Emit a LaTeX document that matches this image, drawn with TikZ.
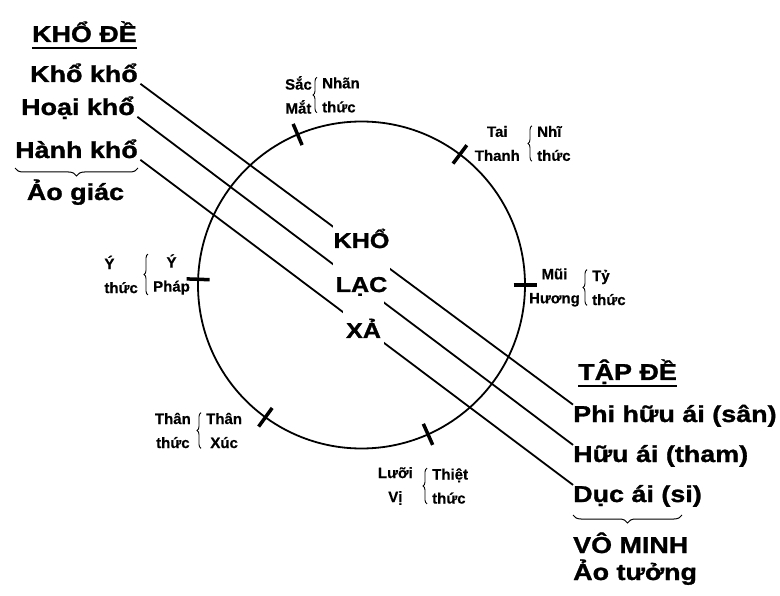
\documentclass[tikz,border=0pt]{standalone}
\usepackage{fontspec}
\setmainfont[BoldFeatures={FakeBold=0.6}]{Liberation Sans}
\newfontfamily\widesans[FakeStretch=1.17, BoldFeatures={FakeBold=1.2}]{Liberation Sans}
\usetikzlibrary{decorations.pathreplacing}

\begin{document}
\begin{tikzpicture}[x=1pt,y=-1pt,
   big/.style={font=\widesans\bfseries\fontsize{23}{28}\selectfont, inner sep=0pt},
   mid/.style={font=\widesans\bfseries\fontsize{21.5}{26}\selectfont, fill=white, inner sep=0pt, anchor=base},
   small/.style={font=\bfseries\fontsize{15}{24}\selectfont, inner sep=0pt},
   ray/.style={line width=1.8pt, shorten <=3pt},
   tick/.style={line width=3.5pt},
   ubar/.style={line width=1.8pt},
   sbrace/.style={decorate, decoration={brace, amplitude=4pt}, line width=0.9pt},
   bbrace/.style={decorate, decoration={brace, amplitude=8pt}, line width=1pt}]
   \useasboundingbox (0,0) rectangle (780,596);
   % left column
   \node[big, anchor=base east] (khode) at (137,42) {KHỔ ĐỀ};
   \node[big, anchor=base east] (khokho) at (138,82) {Khổ khổ};
   \node[big, anchor=base east] (hoai) at (135,115) {Hoại khổ};
   \node[big, anchor=base east] (hanh) at (138,158) {Hành khổ};
   \node[big, anchor=base] (aogiac) at (75.5,200) {Ảo giác};
   \draw[ubar] ([yshift=-6pt]khode.base west) -- ([yshift=-6pt]khode.base east);
   \draw[bbrace] ([yshift=-10pt]hanh.base east) -- ([yshift=-10pt]hanh.base west);
   % right column
   \node[big, anchor=base west] (tapde) at (578,380) {TẬP ĐỀ};
   \node[big, anchor=base west] (phi) at (573,422) {Phi hữu ái (sân)};
   \node[big, anchor=base west] (huu) at (573,462) {Hữu ái (tham)};
   \node[big, anchor=base west] (duc) at (573,502) {Dục ái (si)};
   \node[big, anchor=base west] (vominh) at (573,553) {VÔ MINH};
   \node[big, anchor=base west] (aotuong) at (573,580) {Ảo tưởng};
   \draw[ubar] ([yshift=-6pt]tapde.base west) -- ([yshift=-6pt]tapde.base east);
   \draw[bbrace] ([xshift=-20pt,yshift=-13pt]duc.base east) -- ([yshift=-13pt]duc.base west);
   % wheel
   \coordinate (c) at (361.5,285);
   \draw[line width=1.8pt] (c) circle (163.5);
   \draw[tick] ([shift={(0:152)}]c) -- ([shift={(0:175)}]c);
   \draw[tick] ([shift={(-53:152)}]c) -- ([shift={(-53:175)}]c);
   \draw[tick] ([shift={(-113:152)}]c) -- ([shift={(-113:175)}]c);
   \draw[tick] ([shift={(-178:152)}]c) -- ([shift={(-178:175)}]c);
   \draw[tick] ([shift={(-234:152)}]c) -- ([shift={(-234:175)}]c);
   \draw[tick] ([shift={(-294:152)}]c) -- ([shift={(-294:175)}]c);
   % rays
   \draw[ray] (khokho.base east) -- (phi.north west);
   \draw[ray] (hoai.base east) -- (huu.north west);
   \draw[ray] (hanh.base east) -- (duc.north west);
   % centre
   \node[mid, minimum width=57pt, text height=30pt, text depth=18pt] (kho) at (361.5,248) {KHỔ};
   \node[mid, minimum width=57pt, text height=26pt, text depth=8pt] (lac) at (361.5,292) {LẠC};
   \node[mid, minimum width=41pt, text height=38pt, text depth=10pt] (xa) at (363.5,338) {XẢ};
   % senses
   \node[small, anchor=east, align=center] (sacL) at (312,95) {Sắc\\Mắt};
   \node[small, anchor=west, align=left] (sacR) at (322,95) {Nhãn\\thức};
   \draw[sbrace] ([xshift=-5pt]sacR.south west) -- ([xshift=-5pt]sacR.north west);
   \node[small, anchor=east, align=center] (taiL) at (520,143.5) {Tai\\Thanh};
   \node[small, anchor=west, align=left] (taiR) at (537,143.5) {Nhĩ\\thức};
   \draw[sbrace] ([xshift=-5pt]taiR.south west) -- ([xshift=-5pt]taiR.north west);
   \node[small, anchor=east, align=center] (muiL) at (580,287.5) {Mũi\\Hương};
   \node[small, anchor=west, align=left] (muiR) at (592,287.5) {Tỷ\\thức};
   \draw[sbrace] ([xshift=-5pt]muiR.south west) -- ([xshift=-5pt]muiR.north west);
   \node[small, anchor=east, align=left] (yL) at (138,274.5) {Ý\\thức};
   \node[small, anchor=west, align=center] (yR) at (153,274.5) {Ý\\Pháp};
   \draw[sbrace] ([xshift=-5pt]yR.south west) -- ([xshift=-5pt]yR.north west);
   \node[small, anchor=east, align=center] (thanL) at (191,430.5) {Thân\\thức};
   \node[small, anchor=west, align=center] (thanR) at (206,430.5) {Thân\\Xúc};
   \draw[sbrace] ([xshift=-5pt]thanR.south west) -- ([xshift=-5pt]thanR.north west);
   \node[small, anchor=east, align=center] (luoiL) at (413,486) {Lưỡi\\Vị};
   \node[small, anchor=west, align=left] (luoiR) at (432,486) {Thiệt\\thức};
   \draw[sbrace] ([xshift=-5pt]luoiR.south west) -- ([xshift=-5pt]luoiR.north west);
\end{tikzpicture}
\end{document}
